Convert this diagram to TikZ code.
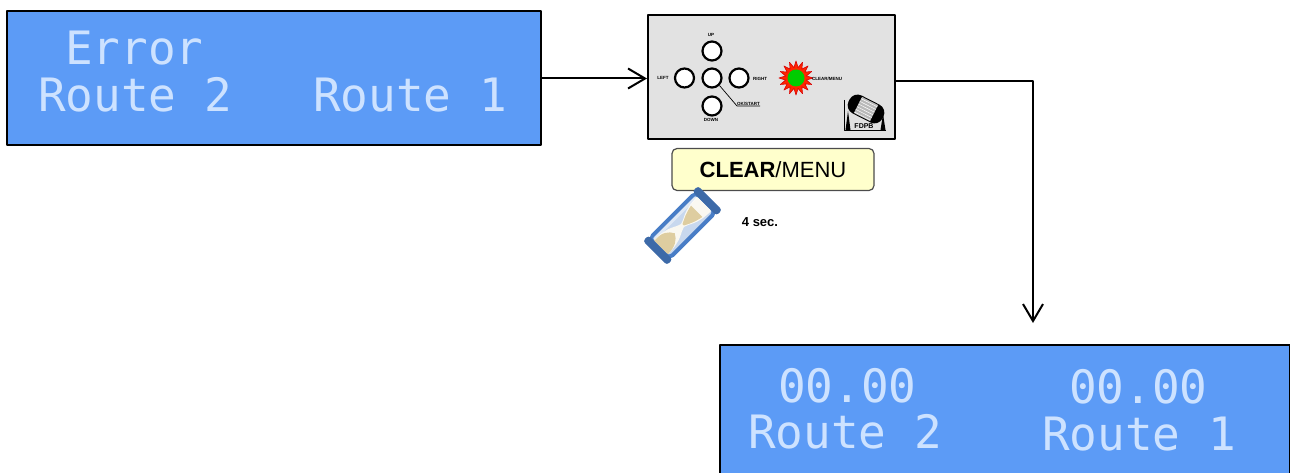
\documentclass[tikz,border=0pt]{standalone}
\usepackage{fontspec}
\setmainfont{Liberation Sans}
\newfontfamily\lcdfont{DejaVu Sans Mono}
\usetikzlibrary{arrows.meta,shapes.geometric}
\definecolor{lcdblue}{RGB}{92,155,246}
\definecolor{lcdtext}{RGB}{205,226,255}
\definecolor{panelgray}{RGB}{226,226,226}
\definecolor{keyyellow}{RGB}{255,255,204}
\definecolor{hgblue}{RGB}{72,125,198}
\definecolor{sand}{RGB}{222,205,160}
\begin{document}
\begin{tikzpicture}[x=1pt,y=-1pt,line join=round,>={Straight Barb[length=17pt,width=20pt]},
  lcd/.style={draw=black,line width=2pt,fill=lcdblue,inner sep=0pt},
  lcdtxt/.style={font=\lcdfont\fontsize{46}{46}\selectfont,text=lcdtext,anchor=base west,inner sep=0pt},
  btn/.style={circle,draw=black,line width=2.2pt,fill=white,minimum size=19pt,inner sep=0pt},
  padlbl/.style={font=\bfseries\fontsize{4.5}{5}\selectfont,inner sep=0pt},
  link/.style={->,line width=2pt}]
\clip (0,0) rectangle (1290,473);
% error screen
\node[lcd,minimum width=534pt,minimum height=134pt] (err) at (274,78.5) {};
\node[lcdtxt] (err-t) at (65,65) {Error};
\node[lcdtxt] (err-r2) at (38,112) {Route 2};
\node[lcdtxt] (err-r1) at (313,112) {Route 1};
% keypad
\node[draw=black,line width=2pt,fill=panelgray,minimum width=247pt,minimum height=124pt,inner sep=0pt] (panel) at (771.5,77) {};
\foreach \n/\bx/\by in {c/712/78,up/712/51,dn/712/106,lt/684.5/78,rt/739/78}{\node[btn] (b-\n) at (\bx,\by) {};}
\node[padlbl] (l-up) at (711,35) {UP};
\node[padlbl] (l-lt) at (663,78) {LEFT};
\node[padlbl] (l-rt) at (760,79) {RIGHT};
\node[padlbl] (l-dn) at (711,120) {DOWN};
\node[padlbl,anchor=south west] (l-ok) at (737,106) {OK/START};
\draw[line width=0.7pt] (b-c.south east) -- (l-ok.south west) -- (l-ok.south east);
\node[star,star points=16,star point ratio=1.6,minimum size=34pt,fill=red!70!orange,draw=red!85!black,line width=0.6pt,inner sep=0pt] (led) at (796,78) {};
\node[circle,fill=green!80!black,minimum size=17pt,inner sep=0pt] (led-g) at (led) {};
\node[padlbl,anchor=west] (l-clr) at (812,79) {CLEAR/MENU};
% logo
\draw[line width=0.8pt] (844,100) -- (844,130) -- (886,130);
\fill (845.5,130) -- (848,111) -- (850.5,130) -- cycle;
\fill (880.5,130) -- (883,114) -- (885.5,130) -- cycle;
\begin{scope}[shift={(866,109)},rotate=-27]
\fill[black,rounded corners=9pt] (-19,-10) rectangle (19,10);
\fill[gray!55] (-9,-9) rectangle (9,9);
\foreach \s in {-7,-4,...,8} \draw[white,line width=0.5pt] (-9,\s) -- (9,\s);
\end{scope}
\node[font=\bfseries\fontsize{7}{7}\selectfont,inner sep=0pt] (logo) at (864,126) {FDPB};
% key and delay
\node[draw=black!70,line width=1.2pt,fill=keyyellow,rounded corners=5pt,minimum width=202pt,minimum height=42pt,font=\fontsize{22}{22}\selectfont] (clr) at (773,169.5) {\textbf{CLEAR}/MENU};
\begin{scope}[shift={(682.5,225.5)},rotate=-45]
\fill[hgblue!30,rounded corners=4pt] (-15,-33) rectangle (15,33);
\fill[white!85!sand] (-10,-31) .. controls (-10,-10) and (-3,-6) .. (-2,0) .. controls (-3,6) and (-10,10) .. (-10,31) -- (10,31) .. controls (10,10) and (3,6) .. (2,0) .. controls (3,-6) and (10,-10) .. (10,-31) -- cycle;
\fill[sand] (-10,31) .. controls (-10,20) and (-6,14) .. (0,11) .. controls (6,14) and (10,20) .. (10,31) -- cycle;
\fill[sand] (-8,-20) -- (8,-20) .. controls (6,-10) and (3,-5) .. (1,-1) -- (-1,-1) .. controls (-3,-5) and (-6,-10) .. cycle;
\draw[hgblue,line width=4pt,rounded corners=5pt] (-14,-33) rectangle (14,33);
\fill[hgblue!85!black,rounded corners=3pt] (-17,-39) rectangle (17,-31);
\fill[hgblue!85!black,rounded corners=3pt] (-17,31) rectangle (17,39);
\fill[white,opacity=0.45] (-12,-30) rectangle (-9,30);
\end{scope}
\node[font=\bfseries\fontsize{13}{13}\selectfont] (wait) at (760,222.5) {4 sec.};
% result screen
\node[lcd,minimum width=570pt,minimum height=140pt,anchor=north west] (res) at (719,344) {};
\node[lcdtxt] (res-t2) at (778,402) {00.00};
\node[lcdtxt] (res-r2) at (748,448) {Route 2};
\node[lcdtxt] (res-t1) at (1069,403) {00.00};
\node[lcdtxt] (res-r1) at (1042,450) {Route 1};
% connectors
\coordinate (drop) at (1033,323);
\draw[link] (err.east) -- (err.east -| panel.west);
\draw[link] (panel.east |- 0,81) -| (drop);
\end{tikzpicture}
\end{document}
